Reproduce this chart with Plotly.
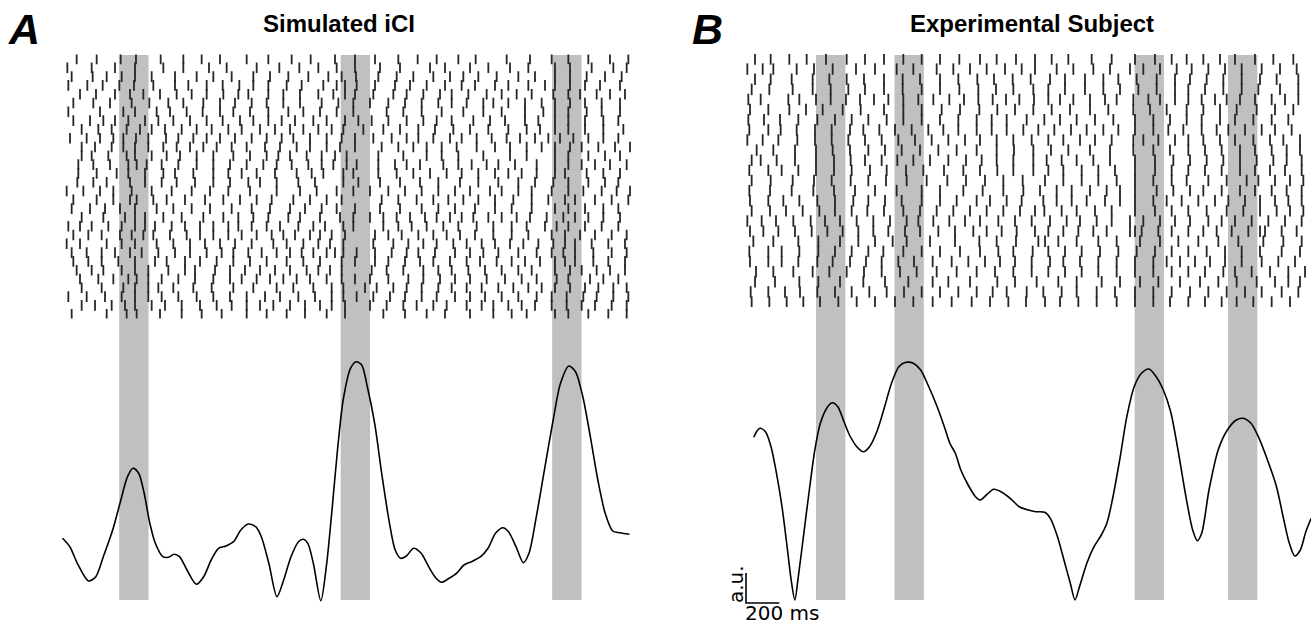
import plotly.graph_objects as go

# ---------------- data ----------------
# Panel A (simulated) spike raster: spike times (ms) per trial, trial 1 at top
raster_A = [
    [130,250,394,486,634,770,880,990,1150,1280,1420,1534,1680,1800,1920,2060,2176,2290,2420,2524,2710,2850,2980,3080,3200,3330,3440],
    [74,220,360,480,650,770,924,1030,1210,1346,1466,1580,1690,1800,1950,2070,2250,2340,2490,2600,2730,2840,3000,3090,3220,3350,3430],
    [100,226,310,400,480,580,720,850,950,1060,1190,1290,1400,1520,1640,1720,1806,1940,2050,2150,2270,2370,2450,2540,2650,2780,2880,3000,3090,3190,3300,3400],
    [80,194,286,386,474,590,720,800,910,1006,1106,1190,1280,1390,1480,1610,1690,1740,1810,1920,2040,2130,2230,2340,2440,2520,2640,2720,2840,2940,3000,3090,3180,3270,3390],
    [150,246,360,450,530,630,730,820,910,1010,1100,1160,1280,1370,1470,1580,1670,1740,1800,1910,2030,2110,2210,2310,2380,2480,2590,2680,2770,2860,2990,3080,3150,3250,3330,3420],
    [110,230,330,460,566,680,770,890,990,1080,1180,1270,1370,1470,1600,1700,1790,1890,2000,2100,2200,2300,2380,2470,2570,2630,2720,2820,2920,3000,3090,3180,3280,3390],
    [80,270,410,480,610,690,790,886,990,1070,1170,1280,1400,1490,1590,1690,1790,1990,2090,2200,2320,2450,2570,2680,2820,2930,3000,3080,3190,3280,3390],
    [110,210,290,360,440,540,620,710,810,910,1006,1110,1190,1280,1360,1440,1550,1630,1740,1820,1900,2000,2110,2210,2290,2380,2510,2610,2700,2820,2900,3000,3080,3180,3290,3380],
    [160,260,340,430,510,580,660,760,850,940,1040,1120,1230,1320,1410,1490,1580,1660,1730,1850,1970,2070,2180,2280,2390,2490,2600,2720,2830,2910,3000,3080,3180,3290,3410],
    [90,190,270,350,410,486,560,666,740,830,910,990,1080,1180,1270,1360,1430,1530,1630,1720,1800,1910,2020,2110,2180,2270,2370,2440,2530,2620,2710,2790,2880,2960,3030,3110,3200,3290,3380],
    [160,240,340,410,480,560,650,730,810,890,970,1060,1150,1260,1350,1450,1530,1630,1710,1800,1960,2060,2150,2230,2320,2410,2530,2640,2730,2830,2920,3000,3090,3160,3260,3360,3450],
    [160,220,320,430,480,580,670,750,850,950,1070,1170,1270,1340,1410,1510,1600,1680,1750,1940,2090,2230,2320,2420,2570,2730,2830,3000,3080,3200,3300,3390],
    [140,230,330,440,490,550,640,740,850,950,1050,1150,1250,1330,1420,1520,1600,1670,1750,1810,1940,2040,2110,2190,2330,2420,2500,2590,2660,2760,2890,3000,3080,3160,3240,3330,3430],
    [140,250,370,440,540,650,720,830,950,1040,1120,1210,1320,1450,1540,1610,1730,1790,1940,2050,2150,2250,2350,2440,2540,2640,2720,2800,2890,3000,3060,3190,3290,3390],
    [134,230,310,450,540,640,730,840,950,1050,1160,1230,1330,1460,1560,1730,1820,1950,2070,2190,2300,2430,2540,2660,2780,2880,2990,3080,3200,3300,3380],
    [70,170,270,350,460,580,700,820,930,1040,1170,1330,1470,1570,1690,1790,1890,2000,2100,2200,2300,2400,2490,2610,2680,2780,2860,2980,3080,3170,3280,3370,3450],
    [110,250,350,450,490,590,670,780,900,1010,1110,1210,1300,1430,1530,1630,1720,1960,2060,2170,2270,2360,2450,2540,2640,2750,2860,2960,3060,3120,3240,3340,3440],
    [100,210,300,390,480,610,710,820,930,1060,1180,1290,1410,1500,1600,1690,1800,1950,2070,2200,2300,2400,2520,2640,2740,2860,3000,3080,3180,3290,3380],
    [160,290,420,480,540,650,760,890,1010,1100,1190,1280,1400,1470,1590,1710,1790,1890,1970,2050,2130,2220,2290,2370,2440,2510,2600,2680,2770,2850,2950,3050,3120,3200,3290,3390],
    [80,150,220,320,400,480,540,600,700,780,870,950,1040,1100,1180,1270,1350,1460,1550,1620,1730,1790,1970,2060,2140,2230,2330,2420,2530,2630,2740,2830,2940,3010,3080,3180,3280,3380],
    [110,200,280,390,460,530,590,690,790,870,950,1040,1120,1210,1300,1370,1440,1530,1590,1660,1740,1920,2000,2080,2180,2270,2350,2430,2520,2630,2740,2840,2980,3060,3150,3240,3340,3430],
    [70,150,310,400,480,610,710,810,900,990,1080,1180,1310,1390,1490,1580,1650,1730,1910,2030,2120,2210,2290,2390,2470,2560,2640,2730,2810,2900,2990,3060,3120,3220,3320,3420],
    [100,190,280,360,450,520,620,720,810,910,1000,1070,1160,1240,1330,1410,1480,1550,1630,1680,1730,1810,1920,2020,2110,2180,2280,2400,2490,2570,2660,2780,2890,2980,3050,3120,3230,3340,3430],
    [110,200,280,380,480,600,670,780,870,970,1070,1170,1270,1390,1490,1590,1720,1800,1920,2000,2100,2190,2270,2370,2470,2550,2650,2740,2820,2910,3000,3060,3120,3230,3320,3420],
    [130,220,290,400,480,560,680,780,840,960,1050,1140,1230,1320,1410,1510,1580,1650,1720,1900,1990,2090,2210,2300,2380,2480,2580,2680,2780,2860,3000,3090,3160,3250,3330,3420],
    [150,260,350,440,490,560,640,740,840,950,1050,1120,1210,1290,1370,1450,1530,1630,1720,1800,1890,2000,2120,2210,2310,2400,2490,2590,2700,2800,2890,3010,3080,3210,3290,3380],
    [160,280,410,480,560,620,710,830,940,1070,1190,1330,1430,1550,1660,1730,1860,1930,2030,2110,2200,2300,2380,2470,2560,2660,2750,2840,2920,3000,3090,3180,3260,3350,3430],
    [80,190,300,400,480,560,640,740,850,950,1050,1150,1260,1350,1460,1560,1660,1730,1810,1910,2010,2100,2200,2290,2400,2490,2580,2680,2780,2890,2980,3070,3170,3250,3350,3440],
    [160,240,340,420,480,580,660,760,870,970,1060,1150,1230,1310,1410,1500,1590,1660,1740,1890,1990,2090,2170,2270,2350,2470,2560,2630,2720,2800,2880,2980,3070,3160,3240,3340,3430],
    [100,310,430,490,630,760,880,1000,1150,1270,1390,1500,1630,1740,1970,2100,2230,2340,2490,2630,2740,2830,3000,3080,3200,3320,3430],
]

# Panel B (experimental subject) spike raster: spike times (ms) per trial
raster_B = [
    [90,184,296,400,516,640,750,864,980,1090,1200,1316,1440,1540,1656,1770,1870,1970,2110,2230,2370,2490,2590,2680,2780,2880,2970,3090,3200,3320],
    [44,136,200,340,444,556,696,810,940,1040,1180,1280,1380,1480,1590,1690,1770,1900,2000,2120,2220,2340,2420,2520,2620,2710,2810,2910,3010,3130,3240,3340],
    [90,184,310,436,536,640,744,864,976,1080,1200,1310,1424,1524,1636,1744,1860,1950,2070,2180,2270,2380,2500,2610,2700,2800,2900,3010,3120,3220,3350],
    [70,176,316,436,544,650,750,864,976,1090,1200,1316,1430,1536,1640,1760,1850,1950,2070,2180,2280,2390,2500,2610,2690,2790,2900,3010,3110,3240,3350],
    [50,124,290,356,456,544,636,720,804,890,980,1070,1160,1256,1344,1430,1516,1596,1676,1764,1850,1920,2000,2100,2190,2260,2360,2450,2520,2610,2690,2770,2850,2920,3000,3090,3190,3270,3350],
    [60,170,296,396,496,616,724,864,980,1090,1210,1320,1436,1544,1650,1760,1870,1980,2100,2210,2360,2460,2560,2680,2780,2880,2980,3100,3210,3320],
    [50,144,240,350,464,570,670,770,880,980,1090,1200,1310,1420,1510,1600,1720,1826,1920,2020,2130,2240,2370,2480,2580,2680,2770,2880,2970,3080,3190,3290],
    [56,170,244,340,450,550,660,740,836,930,1030,1130,1220,1310,1420,1510,1600,1700,1790,1886,1986,2080,2180,2270,2370,2480,2570,2660,2770,2860,2930,3030,3130,3210,3310],
    [44,136,230,344,450,550,650,750,850,950,1050,1150,1250,1350,1440,1540,1640,1750,1850,1940,2040,2130,2230,2360,2420,2510,2610,2690,2780,2880,2970,3080,3180,3260,3360],
    [100,200,330,456,556,660,770,870,970,1080,1190,1300,1420,1540,1644,1760,1866,1970,2100,2220,2360,2480,2580,2690,2790,2890,3000,3090,3190,3280,3360],
    [70,124,220,330,456,564,664,750,850,944,1040,1140,1250,1356,1450,1540,1640,1760,1840,1930,2020,2120,2220,2370,2490,2600,2700,2800,2900,3000,3100,3200,3280,3370],
    [56,170,250,350,456,564,670,780,880,996,1100,1224,1340,1440,1544,1640,1760,1850,1940,2050,2150,2250,2370,2490,2590,2690,2790,2890,3000,3090,3180,3270,3370],
    [70,184,316,444,550,664,770,876,1000,1120,1244,1356,1470,1580,1696,1830,1940,2050,2150,2260,2370,2480,2590,2680,2810,2920,3040,3110,3210,3300,3380],
    [56,180,310,440,564,690,810,940,1090,1200,1340,1456,1580,1700,1800,1900,1990,2100,2200,2280,2370,2500,2600,2700,2780,2890,3000,3090,3190,3280,3370],
    [60,170,260,356,464,570,680,770,870,970,1090,1200,1300,1420,1500,1600,1690,1820,1900,1990,2080,2190,2280,2370,2480,2560,2650,2750,2850,2930,3030,3120,3210,3290,3370],
    [70,180,276,376,476,570,670,764,864,980,1080,1180,1280,1380,1480,1580,1680,1770,1826,1930,2020,2130,2230,2370,2490,2590,2690,2800,2920,3020,3120,3220,3300,3380],
    [44,130,216,320,424,510,600,700,800,900,1000,1070,1160,1256,1350,1440,1550,1650,1750,1860,1960,2040,2140,2230,2340,2420,2520,2610,2700,2810,2890,2970,3070,3170,3270,3370],
    [60,140,230,330,430,524,616,710,800,890,990,1080,1190,1290,1400,1480,1570,1660,1770,1850,1940,2030,2120,2200,2340,2370,2410,2510,2590,2690,2780,2860,2950,3050,3120,3150,3250,3340],
    [80,200,350,470,600,710,810,916,1000,1140,1290,1436,1540,1656,1790,1830,1910,2020,2150,2260,2400,2520,2630,2750,2870,2990,3140,3260,3370],
    [56,170,250,356,470,570,670,770,860,980,1090,1200,1320,1440,1550,1640,1756,1850,1950,2050,2160,2270,2380,2490,2590,2690,2800,2910,3010,3120,3250,3360],
    [60,170,250,350,464,556,660,756,850,950,1044,1156,1270,1370,1470,1560,1650,1750,1860,1940,2040,2150,2260,2370,2480,2560,2640,2730,2820,2910,3010,3130,3230,3330],
    [96,200,320,436,536,640,744,850,960,1060,1180,1300,1420,1530,1640,1750,1850,1950,2050,2150,2260,2370,2480,2590,2690,2790,2900,2970,3070,3180,3290,3390],
    [90,210,356,470,600,740,870,1010,1156,1250,1380,1544,1650,1780,1910,2020,2170,2280,2400,2510,2640,2760,2870,2980,3100,3210,3290,3360],
    [64,170,270,360,464,570,670,776,880,984,1090,1200,1310,1420,1516,1600,1720,1820,1930,2020,2140,2250,2370,2480,2590,2700,2810,2920,3030,3130,3250,3350],
    [70,176,280,380,480,590,700,810,930,1040,1156,1270,1390,1500,1610,1716,1830,1920,2030,2140,2260,2370,2480,2580,2690,2790,2890,2980,3080,3190,3300],
]

# Population activity curves (time in ms, amplitude in a.u.)
curve_A_t = [45,89,134,201,245,290,346,390,435,468,502,535,569,602,647,680,714,747,792,848,892,937,981,1026,1071,1115,1160,1204,1238,1283,1332,1372,1416,1461,1490,1517,1550,1595,1628,1662,1695,1729,1773,1807,1840,1874,1918,1963,2007,2041,2074,2108,2152,2197,2242,2286,2320,2364,2409,2454,2498,2554,2598,2643,2688,2721,2766,2810,2844,2888,2933,2989,3033,3083,3123,3167,3212,3257,3301,3346,3390,3446]
curve_A_v = [6.17,5.33,3.67,1.9,2.33,4.33,7.0,9.67,12.33,13.17,12.67,10.67,7.67,5.67,4.33,4.27,4.57,4.33,3.0,1.57,2.33,4.0,5.17,5.4,5.83,7.0,7.6,7.33,6.33,3.67,0.33,2.0,4.33,5.83,6.07,5.67,3.67,-0.07,3.33,9.0,15.0,20.0,23.17,23.83,23.5,21.33,17.67,12.33,7.67,5.0,4.17,4.4,5.17,4.67,3.33,2.17,1.77,2.17,2.67,3.5,3.83,4.33,5.17,6.67,7.23,6.83,5.33,3.73,4.67,8.33,12.67,18.0,21.67,23.4,22.83,20.33,16.33,12.0,8.67,6.9,6.73,6.57]

curve_B_t = [83,99,120,153,186,219,252,285,307,329,350,383,416,449,482,526,554,587,624,657,701,740,777,821,865,909,953,996,1040,1084,1128,1183,1226,1259,1292,1325,1369,1413,1441,1478,1522,1566,1621,1675,1730,1774,1829,1862,1905,1949,1982,2010,2037,2081,2124,2168,2201,2234,2278,2321,2365,2409,2453,2497,2540,2584,2628,2672,2716,2744,2770,2814,2869,2924,2978,3018,3066,3110,3165,3219,3263,3296,3329,3362,3395,3427]
curve_B_v = [16.27,16.83,17.17,16.83,15.33,12.67,9.33,5.0,2.0,0.0,2.33,6.67,11.0,15.0,17.67,19.33,19.73,19.33,17.83,16.5,15.33,14.83,15.33,16.83,19.17,21.67,23.33,23.77,23.67,23.0,21.5,19.33,17.33,15.67,14.67,13.0,11.5,10.33,10.0,10.5,11.07,10.83,10.17,9.33,9.0,8.83,8.77,8.17,6.33,3.67,1.67,0.0,1.33,3.67,5.33,6.5,7.67,10.0,14.0,18.33,21.33,22.67,23.1,22.33,21.0,18.83,15.0,10.67,7.0,5.93,6.67,11.0,15.0,17.0,18.0,18.17,17.67,16.33,14.0,11.33,8.0,5.67,4.4,5.0,6.83,8.17]

# Stimulus windows (onset ms) and duration
stim_A_onsets = [385, 1714, 2983]
stim_B_onsets = [456, 927, 2368, 2928]
stim_duration = 176

# scale bar
scale_ms = 200
scale_au = 3

titles = ["Simulated iCI", "Experimental Subject"]
panel_labels = ["A", "B"]

# ---------------- layout helpers ----------------
W, H = 1311, 627
def px_x(p):
    return p / W
def px_y(p):
    return 1 - p / H

TICK_COLOR = "#262626"
BAR_COLOR = "#c0c0c0"

fig = go.Figure()

def raster_trace(raster, xa, ya, size):
    xs, ys = [], []
    for i, row in enumerate(raster):
        for t in row:
            xs.append(t)
            ys.append(i + 1)
    return go.Scatter(x=xs, y=ys, mode="markers", xaxis=xa, yaxis=ya,
                      marker=dict(symbol="line-ns", size=size,
                                  line=dict(width=1.8, color=TICK_COLOR),
                                  color=TICK_COLOR),
                      hoverinfo="skip", showlegend=False)

fig.add_trace(raster_trace(raster_A, "x", "y", 7.6))
fig.add_trace(go.Scatter(x=curve_A_t, y=curve_A_v, mode="lines", xaxis="x", yaxis="y2",
                         line=dict(color="black", width=1.6, shape="spline", smoothing=0.8),
                         hoverinfo="skip", showlegend=False))
fig.add_trace(raster_trace(raster_B, "x2", "y3", 8.2))
fig.add_trace(go.Scatter(x=curve_B_t, y=curve_B_v, mode="lines", xaxis="x2", yaxis="y4",
                         line=dict(color="black", width=1.6, shape="spline", smoothing=0.8),
                         hoverinfo="skip", showlegend=False))

# scale bar (panel B)
sb_t0 = 36
sb_v0 = -0.3
fig.add_trace(go.Scatter(x=[sb_t0, sb_t0, sb_t0 + scale_ms],
                         y=[sb_v0 + scale_au, sb_v0, sb_v0],
                         mode="lines", xaxis="x2", yaxis="y4",
                         line=dict(color="black", width=1.6),
                         hoverinfo="skip", showlegend=False))

shapes = []
bar_y0, bar_y1 = px_y(600), px_y(55)
for xa, onsets in (("x", stim_A_onsets), ("x2", stim_B_onsets)):
    for s in onsets:
        shapes.append(dict(type="rect", xref=xa, yref="paper",
                           x0=s, x1=s + stim_duration, y0=bar_y0, y1=bar_y1,
                           fillcolor=BAR_COLOR, line=dict(width=0), layer="below"))

hidden = dict(visible=False, showgrid=False, zeroline=False, fixedrange=True)

fig.update_layout(
    width=W, height=H,
    margin=dict(l=0, r=0, t=0, b=0, pad=0),
    paper_bgcolor="white", plot_bgcolor="rgba(0,0,0,0)",
    showlegend=False,
    xaxis=dict(domain=[px_x(55), px_x(640)], range=[0, 6 * 585], **hidden),
    xaxis2=dict(domain=[px_x(740), px_x(1311)], range=[0, 6 * 571], **hidden),
    yaxis=dict(domain=[px_y(318.6), px_y(54.6)], range=[30.5, 0.5], anchor="x", **hidden),
    yaxis2=dict(domain=[px_y(610), px_y(350)], range=[-1, 25], anchor="x", **hidden),
    yaxis3=dict(domain=[px_y(307.1), px_y(53.9)], range=[25.5, 0.5], anchor="x2", **hidden),
    yaxis4=dict(domain=[px_y(610), px_y(350)], range=[-1, 25], anchor="x2", **hidden),
    shapes=shapes,
)

annotations = [
    dict(text="<b>" + titles[0] + "</b>", x=px_x(339), y=px_y(23), xref="paper", yref="paper",
         xanchor="center", yanchor="middle", showarrow=False,
         font=dict(family="Liberation Sans, Arial, sans-serif", size=24, color="black")),
    dict(text="<b>" + titles[1] + "</b>", x=px_x(1032), y=px_y(23), xref="paper", yref="paper",
         xanchor="center", yanchor="middle", showarrow=False,
         font=dict(family="Liberation Sans, Arial, sans-serif", size=24, color="black")),
    dict(text="<b><i>" + panel_labels[0] + "</i></b>", x=px_x(24), y=px_y(29), xref="paper", yref="paper",
         xanchor="center", yanchor="middle", showarrow=False,
         font=dict(family="Liberation Sans, Arial, sans-serif", size=43, color="black")),
    dict(text="<b><i>" + panel_labels[1] + "</i></b>", x=px_x(707), y=px_y(29), xref="paper", yref="paper",
         xanchor="center", yanchor="middle", showarrow=False,
         font=dict(family="Liberation Sans, Arial, sans-serif", size=43, color="black")),
    dict(text="a.u.", x=px_x(736), y=px_y(584), xref="paper", yref="paper",
         xanchor="center", yanchor="middle", showarrow=False, textangle=-90,
         font=dict(family="DejaVu Sans, sans-serif", size=20, color="black")),
    dict(text="200 ms", x=px_x(743), y=px_y(613), xref="paper", yref="paper",
         xanchor="left", yanchor="middle", showarrow=False,
         font=dict(family="DejaVu Sans, sans-serif", size=20, color="black")),
]
fig.update_layout(annotations=annotations)

fig.write_html("out.html")
